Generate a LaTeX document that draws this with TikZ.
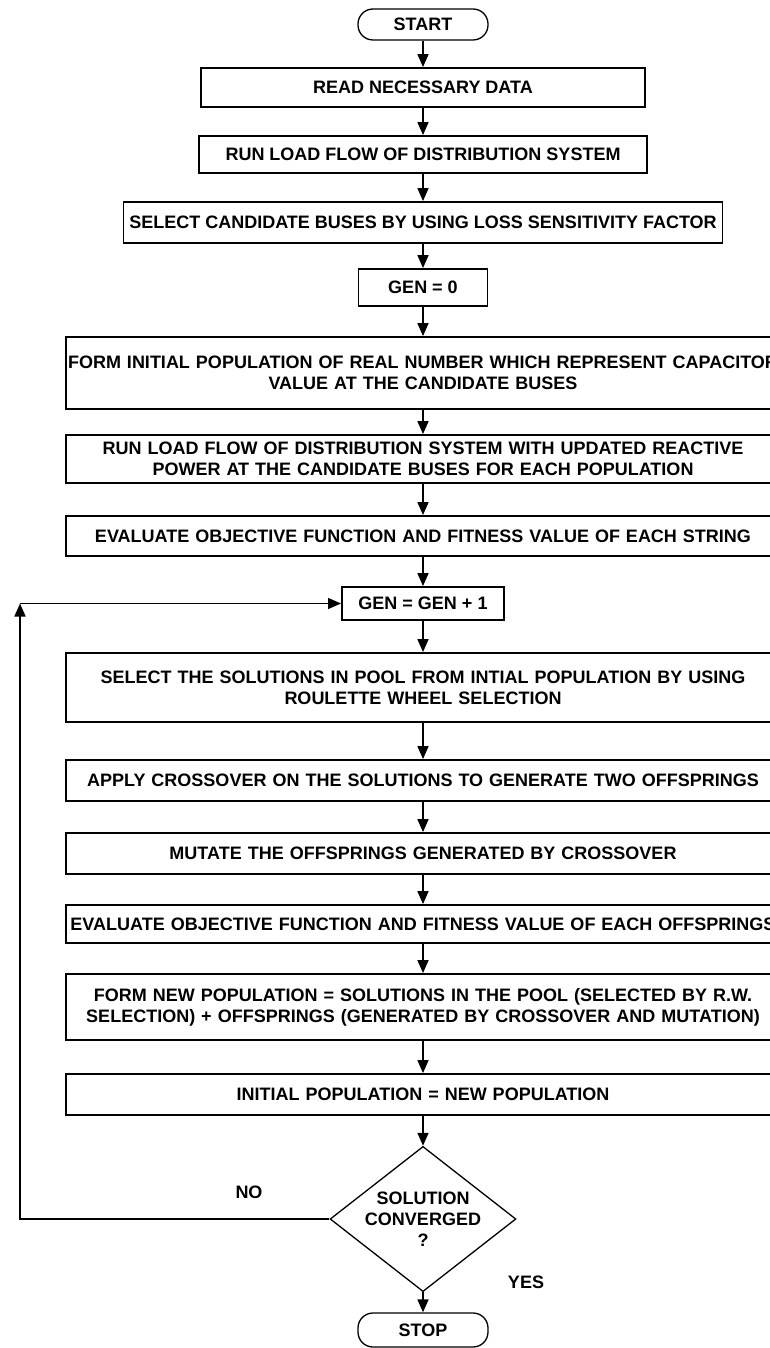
\documentclass[tikz,border=0pt]{standalone}
\usepackage{fontspec}
\setmainfont{Liberation Sans}
\usetikzlibrary{shapes.geometric,arrows.meta}
\begin{document}
\begin{tikzpicture}[x=1pt,y=-1pt,
  txt/.style={font=\fontsize{18}{21}\selectfont\bfseries},
  box/.style={txt,draw,line width=1.9pt,rectangle,inner sep=0pt,align=center},
  wide/.style={box,text width=714pt},
  term/.style={txt,draw,line width=1.3pt,rounded corners=15pt,minimum width=130pt,minimum height=31pt,inner sep=0pt},
  dec/.style={txt,draw,diamond,line width=1.3pt,aspect=1.28,inner sep=0pt,minimum width=177pt,minimum height=138pt,align=center},
  arr/.style={line width=1.7pt,-{Triangle[length=13pt,width=11pt]}},
  lbl/.style={txt}]
\useasboundingbox (0,0) rectangle (770,1348);
\node[term] (start) at (423,24.5) {START};
\node[box,minimum width=444pt,minimum height=39pt] (read) at (423,87.5) {READ NECESSARY DATA};
\node[box,minimum width=448pt,minimum height=37pt] (run1) at (423,154.5) {RUN LOAD FLOW OF DISTRIBUTION SYSTEM};
\node[box,minimum width=599pt,minimum height=41pt] (sel) at (423,222.5) {SELECT CANDIDATE BUSES BY USING LOSS SENSITIVITY FACTOR};
\node[box,minimum width=129pt,minimum height=37pt] (gen0) at (423,287.5) {GEN = 0};
\node[wide,minimum height=72pt] (form) at (423,373) {FORM INITIAL POPULATION OF REAL NUMBER WHICH REPRESENT CAPACITOR\\VALUE AT THE CANDIDATE BUSES};
\node[wide,minimum height=48pt] (run2) at (423,459) {RUN LOAD FLOW OF DISTRIBUTION SYSTEM WITH UPDATED REACTIVE\\POWER AT THE CANDIDATE BUSES FOR EACH POPULATION};
\node[wide,minimum height=40pt] (eval1) at (423,536) {EVALUATE OBJECTIVE FUNCTION AND FITNESS VALUE OF EACH STRING};
\node[box,minimum width=162pt,minimum height=33pt] (gen1) at (423,603.5) {GEN = GEN + 1};
\node[wide,minimum height=69pt] (selsol) at (423,687.5) {SELECT THE SOLUTIONS IN POOL FROM INTIAL POPULATION BY USING\\ROULETTE WHEEL SELECTION};
\node[wide,minimum height=41pt] (apply) at (423,780.5) {APPLY CROSSOVER ON THE SOLUTIONS TO GENERATE TWO OFFSPRINGS};
\node[wide,minimum height=41pt] (mut) at (423,853.5) {MUTATE THE OFFSPRINGS GENERATED BY CROSSOVER};
\node[wide,minimum height=38pt] (eval2) at (423,924) {EVALUATE OBJECTIVE FUNCTION AND FITNESS VALUE OF EACH OFFSPRINGS};
\node[wide,minimum height=66pt] (newpop) at (423,1007) {FORM NEW POPULATION = SOLUTIONS IN THE POOL (SELECTED BY R.W.\\SELECTION) + OFFSPRINGS (GENERATED BY CROSSOVER AND MUTATION)};
\node[wide,minimum height=41pt] (initpop) at (423,1094.5) {INITIAL POPULATION = NEW POPULATION};
\node[dec] (conv) at (423,1219) {SOLUTION\\CONVERGED\\?};
\node[term,minimum height=34pt] (stop) at (423,1330) {STOP};
\node[lbl] (no) at (249,1192) {NO};
\node[lbl] (yes) at (526,1282) {YES};
\coordinate (corner) at (20,603.5);
\coordinate (low) at (20,1219);
\draw[arr] (start) -- (read);
\draw[arr] (read) -- (run1);
\draw[arr] (run1) -- (sel);
\draw[arr] (sel) -- (gen0);
\draw[arr] (gen0) -- (form);
\draw[arr] (form) -- (run2);
\draw[arr] (run2) -- (eval1);
\draw[arr] (eval1) -- (gen1);
\draw[arr] (gen1) -- (selsol);
\draw[arr] (selsol) -- (apply);
\draw[arr] (apply) -- (mut);
\draw[arr] (mut) -- (eval2);
\draw[arr] (eval2) -- (newpop);
\draw[arr] (newpop) -- (initpop);
\draw[arr] (initpop) -- (conv);
\draw[arr] (conv) -- (stop);
\draw[arr] (conv.west) -- (low) -- (corner);
\draw[line width=1.1pt,-{Triangle[length=13pt,width=11pt]}] (corner) -- (gen1.west);
\end{tikzpicture}
\end{document}
